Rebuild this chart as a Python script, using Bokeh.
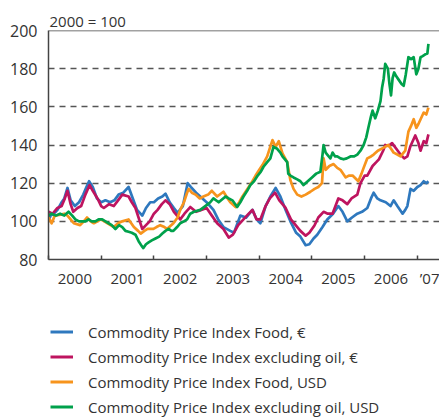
from bokeh.plotting import figure
from bokeh.layouts import column
from bokeh.models import Range1d, FixedTicker, Span, Legend, LegendItem
from bokeh.embed import file_html
from bokeh.resources import INLINE

# ---- data (x in years, y index 2000 = 100) ----
food_eur_x = [2000.00, 2000.04, 2000.10, 2000.17, 2000.25, 2000.30, 2000.36, 2000.42, 2000.50, 2000.58,
              2000.66, 2000.72, 2000.77, 2000.84, 2000.92, 2001.00, 2001.08, 2001.17, 2001.25, 2001.33,
              2001.42, 2001.52, 2001.60, 2001.68, 2001.78, 2001.85, 2001.93, 2002.00, 2002.08, 2002.16,
              2002.22, 2002.30, 2002.38, 2002.45, 2002.55, 2002.64, 2002.70, 2002.80, 2002.88, 2003.00,
              2003.13, 2003.22, 2003.32, 2003.45, 2003.52, 2003.64, 2003.75, 2003.87, 2003.95, 2004.02,
              2004.12, 2004.21, 2004.31, 2004.40, 2004.50, 2004.59, 2004.70, 2004.78, 2004.88, 2004.95,
              2005.03, 2005.10, 2005.20, 2005.29, 2005.40, 2005.50, 2005.58, 2005.67, 2005.76, 2005.86,
              2005.95, 2006.05, 2006.12, 2006.17, 2006.24, 2006.30, 2006.40, 2006.49, 2006.55, 2006.62,
              2006.72, 2006.77, 2006.81, 2006.87, 2006.93, 2007.00, 2007.06, 2007.12, 2007.17, 2007.21]
food_eur_y = [100, 103, 104, 106, 110, 112, 117.5, 111, 108, 110,
              114, 118, 121, 118, 112, 110, 111, 110, 111, 114,
              115, 118, 112, 106, 103, 107, 110, 110, 112, 113,
              114.5, 110, 107, 104.5, 108, 120, 118, 115, 113, 110,
              106, 101, 97, 95, 94, 103, 102, 106, 101, 99,
              108, 113, 117.5, 113, 106, 100, 94, 92, 87.5, 88,
              91, 93, 97, 101, 104, 108, 105, 100, 102, 104,
              105, 107, 112, 115, 112, 111, 110, 108, 111, 108,
              104, 106, 108, 117, 116, 118, 119, 121, 120, 121]

exoil_eur_x = [2000.00, 2000.08, 2000.17, 2000.25, 2000.31, 2000.36, 2000.42, 2000.47, 2000.55, 2000.62,
               2000.70, 2000.78, 2000.84, 2000.93, 2001.00, 2001.05, 2001.15, 2001.24, 2001.32, 2001.40,
               2001.52, 2001.58, 2001.65, 2001.72, 2001.78, 2001.85, 2001.92, 2002.00, 2002.07, 2002.15,
               2002.22, 2002.30, 2002.38, 2002.50, 2002.58, 2002.69, 2002.80, 2002.90, 2003.00, 2003.10,
               2003.20, 2003.32, 2003.42, 2003.50, 2003.60, 2003.70, 2003.80, 2003.87, 2003.95, 2004.02,
               2004.12, 2004.20, 2004.30, 2004.38, 2004.50, 2004.60, 2004.69, 2004.78, 2004.88, 2004.95,
               2005.05, 2005.12, 2005.22, 2005.30, 2005.39, 2005.50, 2005.58, 2005.67, 2005.75, 2005.86,
               2005.92, 2006.00, 2006.05, 2006.15, 2006.22, 2006.27, 2006.35, 2006.39, 2006.45, 2006.52,
               2006.60, 2006.68, 2006.75, 2006.81, 2006.87, 2006.96, 2007.02, 2007.06, 2007.12, 2007.17,
               2007.21]
exoil_eur_y = [105, 104, 107, 108, 112, 116, 109, 105, 107, 108,
               114, 119, 116, 112, 108, 107, 109, 108, 111, 114,
               113, 110, 107, 101, 96, 98, 100, 104, 106, 109,
               111, 109, 105, 101, 104, 107.5, 105, 106, 107, 103,
               99, 96, 91.5, 93, 98, 101, 104, 106, 101, 101,
               108, 112, 115, 111, 107, 101, 98, 95, 92.5, 94,
               98, 102, 105, 104, 104, 112, 111, 109, 112, 114,
               120, 124, 124, 129, 131, 132.5, 137, 140, 139.5, 141,
               138, 135, 133, 134, 139.5, 145, 141, 137, 142, 141,
               145.6]

food_usd_x = [2000.00, 2000.06, 2000.12, 2000.23, 2000.30, 2000.36, 2000.42, 2000.48, 2000.60, 2000.67,
              2000.73, 2000.80, 2000.86, 2000.93, 2000.99, 2001.06, 2001.12, 2001.24, 2001.32, 2001.40,
              2001.52, 2001.57, 2001.62, 2001.70, 2001.75, 2001.82, 2001.88, 2001.99, 2002.05, 2002.12,
              2002.20, 2002.25, 2002.37, 2002.45, 2002.50, 2002.57, 2002.63, 2002.66, 2002.72, 2002.79,
              2002.87, 2002.94, 2003.03, 2003.10, 2003.20, 2003.32, 2003.40, 2003.45, 2003.55, 2003.62,
              2003.68, 2003.80, 2003.87, 2003.93, 2004.00, 2004.06, 2004.15, 2004.25, 2004.31, 2004.37,
              2004.44, 2004.53, 2004.59, 2004.65, 2004.72, 2004.80, 2004.88, 2004.97, 2005.05, 2005.12,
              2005.19, 2005.22, 2005.26, 2005.33, 2005.41, 2005.48, 2005.54, 2005.64, 2005.70, 2005.77,
              2005.88, 2005.94, 2005.98, 2006.05, 2006.12, 2006.17, 2006.25, 2006.36, 2006.45, 2006.50,
              2006.55, 2006.62, 2006.68, 2006.77, 2006.83, 2006.88, 2006.93, 2006.98, 2007.02, 2007.07,
              2007.12, 2007.17, 2007.21]
food_usd_y = [102, 99, 103, 103.5, 104, 103, 101, 99, 98, 100,
              102, 100, 99, 100, 101, 100, 99, 97, 99, 100,
              101, 99, 97, 95, 93.6, 95, 96, 96, 97, 98,
              97, 96, 99, 102, 106, 110, 115, 117, 115, 114,
              112, 113, 114, 116, 113, 115.5, 112, 110, 107.5, 110,
              113, 118, 121, 124, 127, 129.5, 134, 142.6, 139, 142,
              135.6, 131, 121.6, 117, 114, 113, 114, 115.5, 117, 118,
              120, 133, 127, 129, 130, 128, 127, 123, 124, 124,
              121, 125, 128, 133, 134, 135, 137, 138.6, 140, 138,
              136, 135, 134, 137, 147, 150, 153.5, 149, 151, 154,
              157, 156, 159.6]

exoil_usd_x = [2000.00, 2000.06, 2000.14, 2000.22, 2000.30, 2000.38, 2000.45, 2000.51, 2000.58, 2000.64,
               2000.70, 2000.76, 2000.82, 2000.89, 2000.95, 2001.02, 2001.08, 2001.14, 2001.20, 2001.27,
               2001.34, 2001.40, 2001.46, 2001.52, 2001.58, 2001.65, 2001.71, 2001.77, 2001.80, 2001.85,
               2001.90, 2001.96, 2002.03, 2002.10, 2002.16, 2002.22, 2002.28, 2002.33, 2002.37, 2002.44,
               2002.50, 2002.57, 2002.63, 2002.69, 2002.76, 2002.88, 2003.00, 2003.07, 2003.13, 2003.23,
               2003.36, 2003.42, 2003.49, 2003.58, 2003.64, 2003.70, 2003.77, 2003.83, 2003.90, 2003.97,
               2004.03, 2004.08, 2004.15, 2004.21, 2004.27, 2004.34, 2004.40, 2004.44, 2004.53, 2004.55,
               2004.59, 2004.65, 2004.72, 2004.78, 2004.84, 2004.92, 2005.00, 2005.08, 2005.16, 2005.20,
               2005.22, 2005.26, 2005.29, 2005.35, 2005.39, 2005.44, 2005.48, 2005.54, 2005.60, 2005.66,
               2005.73, 2005.80, 2005.86, 2005.92, 2005.98, 2006.03, 2006.07, 2006.12, 2006.15, 2006.20,
               2006.25, 2006.30, 2006.33, 2006.36, 2006.39, 2006.44, 2006.47, 2006.50, 2006.53, 2006.56,
               2006.60, 2006.65, 2006.70, 2006.74, 2006.78, 2006.83, 2006.88, 2006.93, 2006.98, 2007.02,
               2007.06, 2007.10, 2007.15, 2007.19, 2007.21]
exoil_usd_y = [103, 104, 103, 104, 103, 105, 103, 101, 100, 100,
               100, 101, 100, 100, 101, 101, 100, 99, 98, 96,
               98, 97, 95, 94.5, 94, 93, 89.6, 87, 86, 88,
               89, 90, 91, 92, 93.6, 95, 96, 95, 95, 97,
               99, 100, 101, 104, 105, 106, 108.5, 110, 112, 110,
               113, 112, 111, 107.5, 110, 113, 116, 119, 121, 124,
               126, 128.6, 131, 133, 139, 138, 136, 134, 131, 125,
               124, 123, 122, 121, 119, 121, 123, 125, 126, 135,
               140, 136, 135, 133, 136, 134, 134, 133, 132.5, 133,
               134, 134, 135, 137, 140, 144, 149, 155, 158, 154,
               158, 163, 170, 174.6, 182.5, 180, 172, 166, 175, 178,
               176, 174, 172, 171, 177, 186, 185, 186, 177, 180,
               186, 186.6, 187.5, 188, 193]

series_names = ["Commodity Price Index Food, \u20ac",
                "Commodity Price Index excluding oil, \u20ac",
                "Commodity Price Index Food, USD",
                "Commodity Price Index excluding oil, USD"]
series_colors = ["#2e78be", "#be145f", "#f7941d", "#00a14b"]

year_ticks = [2000, 2001, 2002, 2003, 2004, 2005, 2006, 2007]
year_label_pos = [2000.5, 2001.5, 2002.5, 2003.5, 2004.5, 2005.5, 2006.5, 2007.25]
year_labels = ["2000", "2001", "2002", "2003", "2004", "2005", "2006", "\u201907"]
y_ticks = [80, 100, 120, 140, 160, 180, 200]
grid_levels = [100, 120, 140, 160, 180]
unit_note = "2000 = 100"

FONT = "Open Sans"
TXT = "#333333"
AXC = "#444444"

# ---------------- main chart ----------------
p = figure(width=439, height=300, output_backend="svg", toolbar_location=None,
           x_range=Range1d(2000, 2007.42), y_range=Range1d(80, 200),
           min_border_left=48, min_border_right=0, min_border_top=30, min_border_bottom=41,
           title=unit_note)
p.outline_line_color = None
p.background_fill_color = "white"
p.border_fill_color = "white"

p.title.align = "left"
p.title.offset = 1
p.title.standoff = 0
p.title.text_font = FONT
p.title.text_font_size = "15px"
p.title.text_font_style = "normal"
p.title.text_color = TXT

p.xaxis.ticker = FixedTicker(ticks=year_label_pos, minor_ticks=year_ticks)
p.xaxis.major_label_overrides = {k: v for k, v in zip(year_label_pos, year_labels)}
p.xaxis.major_tick_line_color = None
p.xaxis.minor_tick_in = 4
p.xaxis.minor_tick_out = 0
p.xaxis.minor_tick_line_color = AXC
p.xaxis.minor_tick_line_width = 1.5
p.xaxis.axis_line_color = AXC
p.xaxis.axis_line_width = 1.5
p.xaxis.major_label_standoff = 2
p.xaxis.major_label_text_font = FONT
p.xaxis.major_label_text_font_size = "15px"
p.xaxis.major_label_text_color = TXT

p.yaxis.ticker = FixedTicker(ticks=y_ticks)
p.yaxis.major_tick_line_color = None
p.yaxis.minor_tick_line_color = None
p.yaxis.axis_line_color = AXC
p.yaxis.axis_line_width = 1.5
p.yaxis.major_label_standoff = 5
p.yaxis.major_label_text_font = FONT
p.yaxis.major_label_text_font_size = "16px"
p.yaxis.major_label_text_color = TXT

p.xgrid.visible = False
p.ygrid.ticker = FixedTicker(ticks=grid_levels)
p.ygrid.grid_line_color = "#555555"
p.ygrid.grid_line_width = 1.5
p.ygrid.grid_line_dash = "6 5"

p.add_layout(Span(location=200, dimension="width", line_color=AXC, line_width=1.5))

xs = [food_eur_x, exoil_eur_x, food_usd_x, exoil_usd_x]
ys = [food_eur_y, exoil_eur_y, food_usd_y, exoil_usd_y]
for col, x, y in zip(series_colors, xs, ys):
    p.line(x, y, line_color=col, line_width=2.7, line_join="round")

# ---------------- legend panel (frame aligned with the chart above) ----------------
lg = figure(width=439, height=119, output_backend="svg", toolbar_location=None,
            x_range=Range1d(0, 1), y_range=Range1d(0, 1),
            x_axis_type=None, y_axis_type=None,
            min_border_left=0, min_border_right=0, min_border_top=0, min_border_bottom=0)
lg.outline_line_color = None
lg.xgrid.visible = False
lg.ygrid.visible = False
items = []
for name, col, x, y in zip(series_names, series_colors, xs, ys):
    # proxy renderers for the legend: the same series, lying outside this panel's ranges
    r = lg.line(x, y, line_color=col, line_width=3)
    items.append(LegendItem(label=name, renderers=[r]))
legend = Legend(items=items, location=(2, 2), orientation="vertical",
                padding=0, margin=0, spacing=4,
                glyph_width=23, glyph_height=21, label_height=21, label_standoff=15,
                label_text_font=FONT, label_text_font_size="15px", label_text_color=TXT,
                border_line_color=None, background_fill_alpha=0)
lg.add_layout(legend)

page = column(p, lg, spacing=0)
open("out.html", "w").write(file_html(page, INLINE))
